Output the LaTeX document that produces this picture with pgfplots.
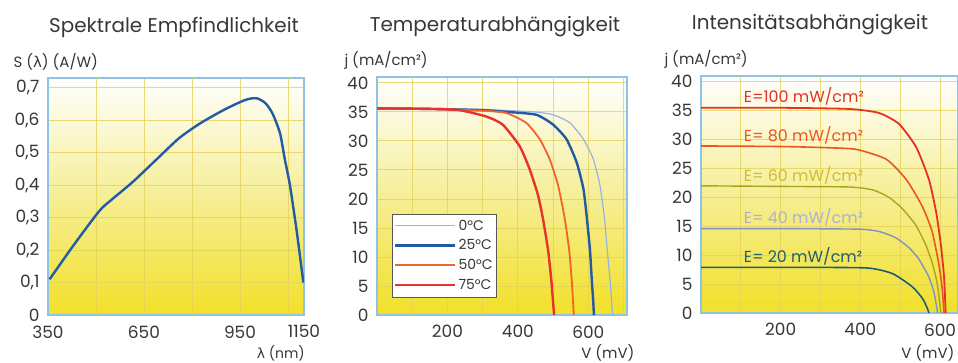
\documentclass[border=0pt]{standalone}
\usepackage{pgfplots}
\pgfplotsset{compat=1.18}
\usepackage{fontspec}
\setmainfont{Poppins}
\newfontfamily\greekfont{DejaVu Sans}
\definecolor{txt}{RGB}{55,55,55}
\definecolor{frame}{RGB}{140,195,230}
\definecolor{gridc}{RGB}{228,210,90}
\definecolor{ylw}{RGB}{242,224,40}
\definecolor{ylwmid}{RGB}{246,238,150}
\definecolor{c0}{RGB}{150,180,225}
\definecolor{c25}{RGB}{35,90,165}
\definecolor{c50}{RGB}{240,100,40}
\definecolor{c75}{RGB}{232,50,45}
\definecolor{e100}{RGB}{228,50,40}
\definecolor{e80}{RGB}{236,85,35}
\definecolor{e60}{RGB}{170,165,30}
\definecolor{e40}{RGB}{130,145,195}
\definecolor{e20}{RGB}{30,95,115}
\definecolor{t60}{RGB}{200,192,50}
\definecolor{t40}{RGB}{170,178,215}
\tikzset{elabel/.style={anchor=south west, inner sep=0pt, font=\fontsize{16}{16}\selectfont}}
\pgfplotsset{
  panel/.style={
    scale only axis, anchor=north west,
    axis background/.style={shade, top color=white, bottom color=ylw, middle color=ylwmid},
    grid=major, major grid style={draw=gridc, line width=0.8bp, opacity=0.8},
    axis line style={draw=frame, line width=1.3bp},
    tick style={draw=none},
    tick label style={font=\fontsize{17}{17}\selectfont, text=txt},
    xticklabel style={yshift=-7bp},
    yticklabel style={xshift=-5bp},
    /pgf/number format/assume math mode=true,
  },
}
\begin{document}
\begin{tikzpicture}
% ---------------- Panel 1
\begin{axis}[panel, at={(48bp,-78bp)}, width=256bp, height=237bp,
  xmin=350, xmax=1150, ymin=0, ymax=0.73,
  xtick={350,650,950,1150}, extra x ticks={500,800,1100}, extra x tick labels={},
  ytick={0,0.1,...,0.7},
  yticklabel style={/pgf/number format/.cd, use comma, fixed, precision=1},
  xticklabel style={/pgf/number format/.cd, 1000 sep={}},
]
\addplot[c25, line width=2.4bp, smooth, tension=0.4] coordinates {
(355,0.11) (430,0.215) (510,0.32) (545,0.352) (615,0.41) (690,0.48) (760,0.545)
(825,0.59) (900,0.632) (960,0.66) (985,0.667) (1005,0.667) (1030,0.652) (1052,0.62)
(1075,0.56) (1090,0.48) (1106,0.40) (1127,0.26) (1148,0.10)};
\end{axis}
% ---------------- Panel 2
\begin{axis}[panel, at={(377bp,-77bp)}, width=250bp, height=238bp,
  xmin=0, xmax=710, ymin=0, ymax=41,
  xtick={200,400,600}, extra x ticks={100,300,500,700}, extra x tick labels={},
  ytick={0,5,...,40},
  legend style={at={(0.06,0.076)}, anchor=south west, draw=black!65, fill=white,
    font=\fontsize{14}{14}\selectfont, text=txt, row sep=4bp, inner ysep=4bp, inner xsep=2bp},
  legend cell align=left,
  legend image code/.code={\path (0bp,0bp) -- (12bp,0bp); \draw[#1] (12bp,0bp) -- (60bp,0bp);},
]
\addplot[c0, line width=1.2bp, smooth, tension=0.35] coordinates {
(0,35.6) (150,35.5) (300,35.4) (443,35.0) (500,34.5) (548,33.1) (586,30.3) (614,26.9)
(633,22.4) (646,16.7) (654,11.1) (662,6.0) (669,0)};
\addlegendentry{0°C}
\addplot[c25, line width=2.4bp, smooth, tension=0.35] coordinates {
(0,35.6) (150,35.5) (300,35.3) (367,35.0) (452,34.5) (500,32.8) (538,30.3) (567,26.3)
(586,21.8) (595,17.3) (605,11.1) (610,6.0) (614,2.5) (616,0)};
\addlegendentry{25°C}
\addplot[c50, line width=1.8bp, smooth, tension=0.35] coordinates {
(0,35.6) (150,35.5) (300,35.2) (367,34.8) (424,33.1) (462,30.3) (490,26.9) (514,22.4)
(533,16.7) (546,11.1) (553,6.0) (559,0)};
\addlegendentry{50°C}
\addplot[c75, line width=2.4bp, smooth, tension=0.35] coordinates {
(0,35.6) (150,35.5) (233,35.3) (310,34.2) (357,32.8) (405,29.1) (433,25.2) (457,20.7)
(471,16.7) (486,11.1) (495,6.0) (503,0)};
\addlegendentry{75°C}
\end{axis}
% ---------------- Panel 3
\begin{axis}[panel, at={(701bp,-76bp)}, width=257bp, height=237bp,
  xmin=0, xmax=645, ymin=0, ymax=41,
  xtick={200,400,600}, extra x ticks={100,300,500}, extra x tick labels={},
  ytick={0,5,...,40},
]
\addplot[e100, line width=1.8bp, smooth, tension=0.35] coordinates {
(0,35.5) (200,35.5) (372,35.3) (447,34.6) (497,32.7) (540,28.7) (572,23.1) (590,17.5)
(602,11.8) (610,6.2) (614,0)};
\addplot[e80, line width=1.6bp, smooth, tension=0.35] coordinates {
(0,28.9) (200,28.8) (315,28.6) (390,28.3) (465,26.6) (515,23.1) (555,18.5) (580,14.1)
(597,8.4) (605,4.5) (610,0)};
\addplot[e60, line width=1.4bp, smooth, tension=0.35] coordinates {
(0,22.0) (200,21.9) (372,21.8) (431,21.3) (472,20.0) (506,18.0) (539,15.2) (564,11.8)
(581,8.5) (593,5.0) (602,0)};
\addplot[e40, line width=1.4bp, smooth, tension=0.35] coordinates {
(0,14.6) (200,14.6) (397,14.5) (447,14.1) (489,13.0) (522,11.3) (547,9.3) (572,6.2)
(585,3.5) (594,0)};
\addplot[e20, line width=1.6bp, smooth, tension=0.35] coordinates {
(0,7.9) (200,7.9) (414,7.8) (481,6.8) (531,4.5) (556,2.5) (568,0.8) (572,0)};
\node[elabel, text=e100] at (axis cs:107,35.9) {E=100 mW/cm²};
\node[elabel, text=e80] at (axis cs:107,29.2) {E= 80 mW/cm²};
\node[elabel, text=t60] at (axis cs:107,22.3) {E= 60 mW/cm²};
\node[elabel, text=t40] at (axis cs:107,14.9) {E= 40 mW/cm²};
\node[elabel, text=e20] at (axis cs:107,8.2) {E= 20 mW/cm²};
\end{axis}
% ---------------- titles and labels
\node[text=txt, font=\fontsize{20}{20}\selectfont] at (174bp,-27bp) {Spektrale Empfindlichkeit};
\node[text=txt, font=\fontsize{20}{20}\selectfont] at (495bp,-27bp) {Temperaturabhängigkeit};
\node[text=txt, font=\fontsize{20}{20}\selectfont] at (810bp,-25bp) {Intensitätsabhängigkeit};
\node[anchor=west, text=txt, font=\fontsize{15}{15}\selectfont] at (10bp,-62bp) {S ({\greekfont λ}) (A/W)};
\node[anchor=west, text=txt, font=\fontsize{15}{15}\selectfont] at (341bp,-60bp) {j (mA/cm²)};
\node[anchor=west, text=txt, font=\fontsize{15}{15}\selectfont] at (661bp,-59bp) {j (mA/cm²)};
\node[anchor=south east, inner sep=1bp, text=txt, font=\fontsize{14}{14}\selectfont] at (306bp,-362bp) {{\greekfont λ} (nm)};
\node[anchor=east, text=txt, font=\fontsize{15}{15}\selectfont] at (638bp,-353bp) {V (mV)};
\node[anchor=east, text=txt, font=\fontsize{15}{15}\selectfont] at (958bp,-353bp) {V (mV)};
\pgfresetboundingbox
\useasboundingbox (0,0) rectangle (958bp,-363bp);
\end{tikzpicture}
\end{document}
